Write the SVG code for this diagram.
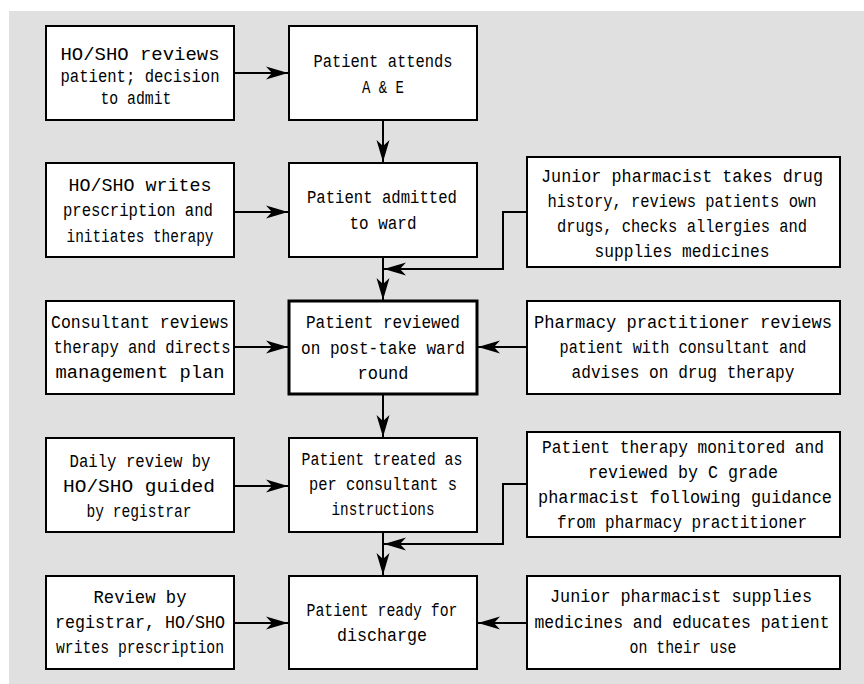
<svg xmlns="http://www.w3.org/2000/svg" width="864" height="684" viewBox="0 0 864 684">
<style>
.box{fill:#fff;stroke:#000;stroke-width:2}
.bold{stroke-width:3}
text{font-family:"Liberation Mono","Courier New",monospace;font-size:19px;fill:#000;text-anchor:middle}
.c{fill:none;stroke:#000;stroke-width:2}
</style>
<defs>
<marker id="ah" markerUnits="userSpaceOnUse" markerWidth="24" markerHeight="14" viewBox="-23 -7 24 14" refX="0" refY="0" orient="auto">
<path d="M0,0 L-22,-6.5 L-16,0 L-22,6.5 Z" fill="#000"/>
</marker>
</defs>
<rect x="9" y="11" width="855" height="673" fill="#e0e0e0"/>

<g id="n1">
<rect class="box" x="46" y="26" width="188" height="94"/>
<text x="140" y="60" textLength="159" lengthAdjust="spacingAndGlyphs">HO/SHO reviews</text>
<text x="140" y="82" textLength="159" lengthAdjust="spacingAndGlyphs">patient; decision</text>
<text x="136" y="104" textLength="71" lengthAdjust="spacingAndGlyphs">to admit</text>
</g>
<g id="n2">
<rect class="box" x="289" y="26" width="188" height="94"/>
<text x="383" y="67" textLength="139" lengthAdjust="spacingAndGlyphs">Patient attends</text>
<text x="383" y="93" textLength="42" lengthAdjust="spacingAndGlyphs">A &amp; E</text>
</g>
<g id="n3">
<rect class="box" x="46" y="163" width="188" height="94"/>
<text x="140" y="191" textLength="143" lengthAdjust="spacingAndGlyphs">HO/SHO writes</text>
<text x="138" y="216" textLength="150" lengthAdjust="spacingAndGlyphs">prescription and</text>
<text x="140" y="242" textLength="147" lengthAdjust="spacingAndGlyphs">initiates therapy</text>
</g>
<g id="n4">
<rect class="box" x="289" y="163" width="188" height="94"/>
<text x="382" y="203" textLength="150" lengthAdjust="spacingAndGlyphs">Patient admitted</text>
<text x="383" y="229" textLength="67" lengthAdjust="spacingAndGlyphs">to ward</text>
</g>
<g id="n5">
<rect class="box" x="527" y="157" width="313" height="110"/>
<text x="682" y="182" textLength="282" lengthAdjust="spacingAndGlyphs">Junior pharmacist takes drug</text>
<text x="682" y="207" textLength="269" lengthAdjust="spacingAndGlyphs">history, reviews patients own</text>
<text x="682" y="232" textLength="250" lengthAdjust="spacingAndGlyphs">drugs, checks allergies and</text>
<text x="682" y="257" textLength="175" lengthAdjust="spacingAndGlyphs">supplies medicines</text>
</g>
<g id="n6">
<rect class="box" x="46" y="301" width="188" height="93"/>
<text x="140" y="328" textLength="178" lengthAdjust="spacingAndGlyphs">Consultant reviews</text>
<text x="142" y="353" textLength="177" lengthAdjust="spacingAndGlyphs">therapy and directs</text>
<text x="140" y="378" textLength="169" lengthAdjust="spacingAndGlyphs">management plan</text>
</g>
<g id="n7">
<rect class="box bold" x="289" y="301" width="188" height="93"/>
<text x="383" y="328" textLength="154" lengthAdjust="spacingAndGlyphs">Patient reviewed</text>
<text x="383" y="354" textLength="164" lengthAdjust="spacingAndGlyphs">on post-take ward</text>
<text x="383" y="379" textLength="51" lengthAdjust="spacingAndGlyphs">round</text>
</g>
<g id="n8">
<rect class="box" x="527" y="301" width="313" height="93"/>
<text x="683" y="328" textLength="298" lengthAdjust="spacingAndGlyphs">Pharmacy practitioner reviews</text>
<text x="683" y="353" textLength="247" lengthAdjust="spacingAndGlyphs">patient with consultant and</text>
<text x="683" y="378" textLength="223" lengthAdjust="spacingAndGlyphs">advises on drug therapy</text>
</g>
<g id="n9">
<rect class="box" x="46" y="438" width="188" height="94"/>
<text x="140" y="467" textLength="141" lengthAdjust="spacingAndGlyphs">Daily review by</text>
<text x="139" y="492" textLength="152" lengthAdjust="spacingAndGlyphs">HO/SHO guided</text>
<text x="139" y="517" textLength="105" lengthAdjust="spacingAndGlyphs">by registrar</text>
</g>
<g id="n10">
<rect class="box" x="289" y="438" width="188" height="94"/>
<text x="382" y="465" textLength="161" lengthAdjust="spacingAndGlyphs">Patient treated as</text>
<text x="383" y="490" textLength="148" lengthAdjust="spacingAndGlyphs">per consultant s</text>
<text x="383" y="515" textLength="103" lengthAdjust="spacingAndGlyphs">instructions</text>
</g>
<g id="n11">
<rect class="box" x="527" y="432" width="313" height="105"/>
<text x="683" y="453" textLength="282" lengthAdjust="spacingAndGlyphs">Patient therapy monitored and</text>
<text x="683" y="478" textLength="190" lengthAdjust="spacingAndGlyphs">reviewed by C grade</text>
<text x="685" y="503" textLength="294" lengthAdjust="spacingAndGlyphs">pharmacist following guidance</text>
<text x="682" y="528" textLength="250" lengthAdjust="spacingAndGlyphs">from pharmacy practitioner</text>
</g>
<g id="n12">
<rect class="box" x="46" y="576" width="188" height="93"/>
<text x="140" y="603" textLength="93" lengthAdjust="spacingAndGlyphs">Review by</text>
<text x="140" y="628" textLength="170" lengthAdjust="spacingAndGlyphs">registrar, HO/SHO</text>
<text x="140" y="653" textLength="168" lengthAdjust="spacingAndGlyphs">writes prescription</text>
</g>
<g id="n13">
<rect class="box" x="289" y="576" width="188" height="93"/>
<text x="382" y="616" textLength="151" lengthAdjust="spacingAndGlyphs">Patient ready for</text>
<text x="382" y="641" textLength="90" lengthAdjust="spacingAndGlyphs">discharge</text>
</g>
<g id="n14">
<rect class="box" x="527" y="576" width="313" height="93"/>
<text x="681" y="602" textLength="262" lengthAdjust="spacingAndGlyphs">Junior pharmacist supplies</text>
<text x="682" y="628" textLength="295" lengthAdjust="spacingAndGlyphs">medicines and educates patient</text>
<text x="683" y="653" textLength="107" lengthAdjust="spacingAndGlyphs">on their use</text>
</g>

<g id="connectors">
<line class="c" x1="235" y1="73" x2="288" y2="73" marker-end="url(#ah)"/>
<line class="c" x1="235" y1="212" x2="288" y2="212" marker-end="url(#ah)"/>
<line class="c" x1="235" y1="347" x2="288" y2="347" marker-end="url(#ah)"/>
<line class="c" x1="235" y1="486" x2="288" y2="486" marker-end="url(#ah)"/>
<line class="c" x1="235" y1="623" x2="288" y2="623" marker-end="url(#ah)"/>
<line class="c" x1="383" y1="121" x2="383" y2="162" marker-end="url(#ah)"/>
<line class="c" x1="383" y1="258" x2="383" y2="300" marker-end="url(#ah)"/>
<line class="c" x1="383" y1="395" x2="383" y2="437" marker-end="url(#ah)"/>
<line class="c" x1="383" y1="533" x2="383" y2="575" marker-end="url(#ah)"/>
<line class="c" x1="526" y1="347" x2="478" y2="347" marker-end="url(#ah)"/>
<line class="c" x1="526" y1="623" x2="478" y2="623" marker-end="url(#ah)"/>
<polyline class="c" points="526,212 503,212 503,269 384,269" marker-end="url(#ah)"/>
<polyline class="c" points="526,484 503,484 503,544 384,544" marker-end="url(#ah)"/>
</g>
</svg>
